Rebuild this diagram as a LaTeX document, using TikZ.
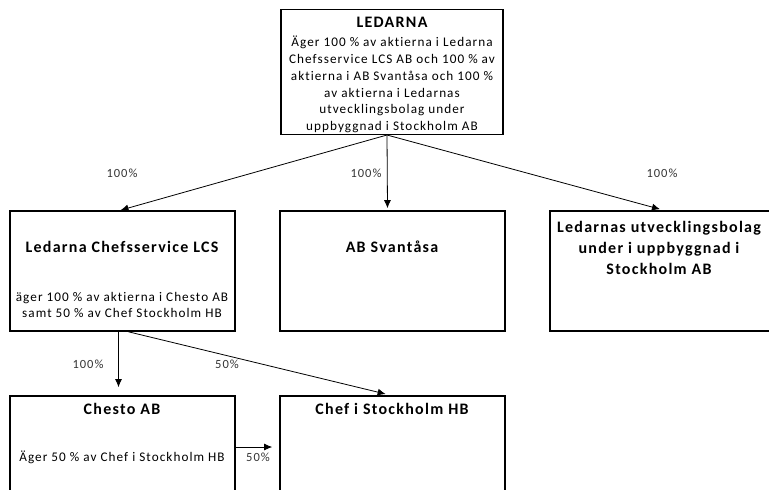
\documentclass[tikz,border=0pt]{standalone}
\usepackage{fontspec}
\usetikzlibrary{arrows.meta}
\setmainfont{Carlito}[Ligatures=CommonOff]
\newfontfamily\boxfont{Carlito}[LetterSpace=8,Ligatures=CommonOff]
\begin{document}
\begin{tikzpicture}[x=1pt,y=-1pt,>={Latex[length=8pt,width=7pt]},
   box/.style={draw,line width=1.6pt,inner sep=0pt},
   title/.style={font=\fontsize{16}{21}\boxfont\bfseries,align=center},
   body/.style={font=\fontsize{13.2}{16.7}\boxfont,align=center},
   pct/.style={font=\fontsize{12.5}{14}\boxfont,text=black!80},
   own/.style={->,line width=0.8pt}]
   \clip (0,0) rectangle (769,490);
   % boxes
   \node[box,minimum width=222pt,minimum height=125pt] (ledarna) at (392,72) {};
   \node[box,minimum width=225pt,minimum height=120pt] (lcs) at (122.5,271) {};
   \node[box,minimum width=225pt,minimum height=120pt] (svantasa) at (392.5,271) {};
   \node[box,minimum width=230pt,minimum height=120pt] (utv) at (665,271) {};
   \node[box,minimum width=225pt,minimum height=102pt] (chesto) at (122.5,447) {};
   \node[box,minimum width=225pt,minimum height=102pt] (chef) at (392.5,447) {};
   % texts
   \node[title] (ledarna-t) at (392,22) {LEDARNA};
   \node[body] (ledarna-b) at (392,84.5) {Äger 100 \% av aktierna i Ledarna\\
      Chefsservice LCS AB och 100 \% av\\aktierna i AB Svantåsa och 100 \%\\
      av aktierna i Ledarnas\\utvecklingsbolag under\\uppbyggnad i Stockholm AB};
   \node[title] (lcs-t) at (122,247) {Ledarna Chefsservice LCS};
   \node[body] (lcs-b) at (122,305) {äger 100 \% av aktierna i Chesto AB\\samt 50 \% av Chef Stockholm HB};
   \node[title] (svantasa-t) at (392,247) {AB Svantåsa};
   \node[title] (utv-t) at (659,248) {Ledarnas utvecklingsbolag\\under i uppbyggnad i\\Stockholm AB};
   \node[title] (chesto-t) at (122,409) {Chesto AB};
   \node[body] (chesto-b) at (122,457) {Äger 50 \% av Chef i Stockholm HB};
   \node[title] (chef-t) at (392,409) {Chef i Stockholm HB};
   % ownership
   \coordinate (src) at (387,135);
   \draw[own] (src) -- ([xshift=-2pt]lcs.north);
   \draw[own] (src) -- ([xshift=-5pt,yshift=2pt]svantasa.north);
   \draw[own] (src) -- ([xshift=-5pt,yshift=1pt]utv.north);
   \draw[own,shorten >=8pt] ([xshift=-4pt]lcs.south) -- ([xshift=-4pt]chesto.north);
   \draw[own,shorten >=5pt] ([xshift=6pt]lcs.south) -- ([xshift=-2pt]chef.north);
   \draw[own,shorten >=7pt] (chesto.east) -- (chef.west);
   \node[pct] (p-lcs) at (122,173) {100\%};
   \node[pct] (p-svantasa) at (366,173) {100\%};
   \node[pct] (p-utv) at (662,173) {100\%};
   \node[pct] (p-chesto) at (88,364) {100\%};
   \node[pct] (p-chef) at (227,364) {50\%};
   \node[pct] (p-chesto-chef) at (258,457) {50\%};
\end{tikzpicture}
\end{document}
